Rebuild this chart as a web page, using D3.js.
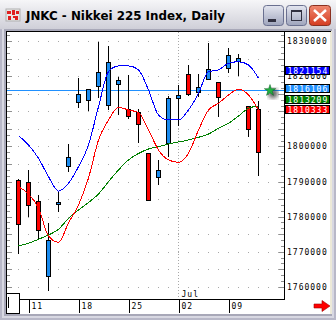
<!DOCTYPE html>
<meta charset="utf-8">
<title>JNKC</title>
<style>
body { margin: 0; }
svg { display: block; }
.num { font-family: "DejaVu Sans Mono", monospace; font-size: 8px; letter-spacing: 1px; }
</style>
<script src="https://d3js.org/d3.v7.min.js"></script>
<body>
<script>

var width = 336, height = 320;

// trading days, June 8 .. July 12
var dates = ["06/08","06/11","06/12","06/13","06/14","06/15","06/18","06/19","06/20","06/21","06/22",
             "06/25","06/26","06/27","06/28","06/29","07/02","07/03","07/04","07/05","07/06",
             "07/09","07/10","07/11","07/12"];

var open  = [1790400,1789800,1784400,1762900,1783500,1794350,1812600,1813200,1817050,1811650,1817750,
             1810600,1809850,1798050,1791400,1800800,1813750,1820650,1815600,1819150,1818300,
             1822450,1824200,1811450,1810700];
var high  = [1790600,1793300,1786300,1778300,1787300,1800700,1819450,1816400,1829900,1828750,1819900,
             1820400,1810700,1798100,1796150,1814400,1817550,1823250,1820650,1829450,1818350,
             1828000,1826300,1811500,1813050];
var low   = [1769400,1780000,1773500,1758900,1781400,1792800,1811050,1810100,1813900,1810400,1809000,
             1807850,1800900,1784500,1789000,1797100,1805950,1814500,1814200,1818950,1808500,
             1821050,1820200,1802800,1791650];
var close = [1777800,1783100,1776000,1773300,1784200,1797000,1815000,1816300,1821150,1824000,1818950,
             1808500,1806500,1784750,1793300,1813750,1814600,1814900,1816900,1822000,1813900,
             1826100,1825150,1804900,1798350];

var maBlue  = [1803080,1800430,1796630,1791380,1787300,1789500,1794240,1800430,1811350,1821330,1822960,
               1822960,1821820,1816110,1808980,1807560,1807560,1810410,1815170,1821330,1821820,
               1823730,1824180,1823240,1819450];
var maRed   = [1788530,1786450,1782460,1774470,1772680,1778180,1783310,1791010,1801850,1807560,1811180,
               1810410,1809690,1804700,1799000,1796150,1795490,1798060,1804700,1810410,1812320,
               1814690,1816310,1814690,1810410];
var maGreen = [1771620,1772390,1773530,1774760,1776380,1779520,1781890,1784030,1786450,1789960,1793300,
               1796150,1798000,1799280,1799940,1800710,1801280,1801850,1802620,1803560,1805190,
               1806610,1808700,1810890,1811550];

var priceLine = 1816106;
var tags = [
  {text: "1821154", color: "#0000ff"},
  {text: "1816106", color: "#2090ff"},
  {text: "1813209", color: "#008000"},
  {text: "1810333", color: "#ff0000"}
];
var tagTops = [66, 84, 95, 105];

// 1810000 sits fully under the value tags, so it is not drawn
var yLabels = [1830000,1820000,1800000,1790000,1780000,1770000,1760000];
var xTicks  = ["06/11","06/18","06/25","07/02","07/09"];
var xTickLabels = ["11","18","25","02","09"];
var monthMark = {date: "07/02", label: "Jul"};

var title = "JNKC - Nikkei 225 Index, Daily";

var plot = {left: 7, right: 284, top: 32, bottom: 299};

var x = d3.scalePoint().domain(dates).range([18.5, 258.5]);
var y = d3.scaleLinear().domain([1756500, 1832650]).range([plot.bottom, plot.top]);

var svg = d3.select("body").append("svg")
    .attr("width", width)
    .attr("height", height);

var defs = svg.append("defs");
var tg = defs.append("linearGradient").attr("id", "titlegrad").attr("x1", 0).attr("y1", 0).attr("x2", 0).attr("y2", 1);
tg.append("stop").attr("offset", "0%").attr("stop-color", "#f6f6f8");
tg.append("stop").attr("offset", "100%").attr("stop-color", "#cfcfd8");
var bg = defs.append("linearGradient").attr("id", "btngrad").attr("x1", 0).attr("y1", 0).attr("x2", 0).attr("y2", 1);
bg.append("stop").attr("offset", "0%").attr("stop-color", "#e4e6f0");
bg.append("stop").attr("offset", "100%").attr("stop-color", "#9ea4bc");
var cg = defs.append("linearGradient").attr("id", "closegrad").attr("x1", 0).attr("y1", 0).attr("x2", 0).attr("y2", 1);
cg.append("stop").attr("offset", "0%").attr("stop-color", "#f08870");
cg.append("stop").attr("offset", "100%").attr("stop-color", "#d43c20");
defs.append("filter").attr("id", "blur").append("feGaussianBlur").attr("stdDeviation", 2);

// window frame
svg.append("rect").attr("width", width).attr("height", height).attr("fill", "#b8b8c8");
svg.append("rect").attr("x", 2).attr("y", 0).attr("width", width - 4).attr("height", height - 2).attr("fill", "#d8d8e2");
svg.append("rect").attr("x", 0).attr("y", 0).attr("width", width).attr("height", 29).attr("fill", "url(#titlegrad)");
svg.append("rect").attr("x", 4).attr("y", 29).attr("width", width - 8).attr("height", 287).attr("fill", "#a8a8b8");
svg.append("rect").attr("x", 6).attr("y", 31).attr("width", 325).attr("height", 283).attr("fill", "#fff");
svg.append("rect").attr("x", 330).attr("y", 31).attr("width", 2).attr("height", 283).attr("fill", "#ece9d8");

// icon
var icon = svg.append("g").attr("transform", "translate(6,9)");
icon.append("rect").attr("width", 14).attr("height", 12).attr("fill", "#e8e8e8").attr("stroke", "#b0b0b0");
[[1,2,4,3],[6,1,3,5],[10,2,3,3],[2,7,3,4],[7,7,5,2],[9,9,3,2]].forEach(function(r) {
  icon.append("rect").attr("x", r[0]).attr("y", r[1]).attr("width", r[2]).attr("height", r[3]).attr("fill", "#e02020");
});

svg.append("text")
    .attr("x", 26).attr("y", 20)
    .attr("textLength", 199).attr("lengthAdjust", "spacingAndGlyphs")
    .style("font-family", "DejaVu Sans").style("font-weight", "bold").style("font-size", "12px")
    .attr("fill", "#000")
    .text(title);

// title buttons
[263, 286].forEach(function(bx) {
  svg.append("rect").attr("x", bx + 0.5).attr("y", 5.5).attr("width", 20).attr("height", 20).attr("rx", 3)
      .attr("fill", "url(#btngrad)").attr("stroke", "#6a7090");
});
svg.append("rect").attr("x", 268).attr("y", 19).attr("width", 8).attr("height", 3).attr("fill", "#303040");
svg.append("rect").attr("x", 291.5).attr("y", 10.5).attr("width", 10).attr("height", 10).attr("fill", "none").attr("stroke", "#303040").attr("stroke-width", 1);
svg.append("rect").attr("x", 291).attr("y", 10).attr("width", 11).attr("height", 2).attr("fill", "#303040");
svg.append("rect").attr("x", 309.5).attr("y", 5.5).attr("width", 21).attr("height", 20).attr("rx", 3)
    .attr("fill", "url(#closegrad)").attr("stroke", "#8a3020");
svg.append("path").attr("d", "M314,10L326,21M326,10L314,21").attr("stroke", "#fff").attr("stroke-width", 2.5);

var chart = svg.append("g").attr("shape-rendering", "crispEdges");

// dotted gridlines
var gridVals = d3.range(1760000, 1830001, 5000);
chart.selectAll("line.grid")
    .data(gridVals)
  .enter().append("line")
    .attr("class", "grid")
    .attr("x1", plot.left + 1).attr("x2", plot.right)
    .attr("y1", function(d) { return Math.round(y(d)) + 0.5; })
    .attr("y2", function(d) { return Math.round(y(d)) + 0.5; })
    .attr("stroke", "#a8a8a8")
    .attr("stroke-dasharray", "1,9");

chart.append("line")
    .attr("x1", x(monthMark.date)).attr("x2", x(monthMark.date))
    .attr("y1", plot.top).attr("y2", plot.bottom)
    .attr("stroke", "#a8a8a8")
    .attr("stroke-dasharray", "1,2");

// axis ticks, left and right edges
var tickVals = d3.range(1760000, 1832001, 5000 / 3);
chart.selectAll("line.rtick")
    .data(tickVals)
  .enter().append("line")
    .attr("x1", function(d, i) { return i % 3 == 0 ? plot.right - 5 : plot.right - 3; })
    .attr("x2", plot.right)
    .attr("y1", function(d) { return Math.round(y(d)) + 0.5; })
    .attr("y2", function(d) { return Math.round(y(d)) + 0.5; })
    .attr("stroke", "#909090");
chart.selectAll("line.ltick")
    .data(tickVals)
  .enter().append("line")
    .attr("x1", plot.left)
    .attr("x2", function(d, i) { return i % 3 == 0 ? plot.left + 5 : plot.left + 3; })
    .attr("y1", function(d) { return Math.round(y(d)) + 0.5; })
    .attr("y2", function(d) { return Math.round(y(d)) + 0.5; })
    .attr("stroke", "#909090");

// horizontal price line
chart.append("line")
    .attr("x1", plot.left).attr("x2", plot.right + 2)
    .attr("y1", Math.round(y(priceLine)) + 0.5).attr("y2", Math.round(y(priceLine)) + 0.5)
    .attr("stroke", "#2090ff");

// candles
var idx = d3.range(dates.length);
chart.selectAll("line.wick")
    .data(idx)
  .enter().append("line")
    .attr("x1", function(i) { return x(dates[i]); })
    .attr("x2", function(i) { return x(dates[i]); })
    .attr("y1", function(i) { return Math.round(y(high[i])); })
    .attr("y2", function(i) { return Math.round(y(low[i])); })
    .attr("stroke", "#000");

chart.selectAll("rect.body")
    .data(idx)
  .enter().append("rect")
    .attr("x", function(i) { return x(dates[i]) - 2; })
    .attr("y", function(i) { return Math.round(y(Math.max(open[i], close[i]))) + 0.5; })
    .attr("width", 4)
    .attr("height", function(i) { return Math.max(2, Math.round(y(Math.min(open[i], close[i])) - y(Math.max(open[i], close[i])))); })
    .attr("fill", function(i) { return close[i] >= open[i] ? "#1a8cf0" : "#ff0000"; })
    .attr("stroke", "#000");

// moving averages
var line = function(vals) {
  return d3.line()
      .x(function(d, i) { return x(dates[i]); })
      .y(function(d) { return y(d); })
      .curve(d3.curveMonotoneX)(vals);
};
[[maGreen, "#008000"], [maRed, "#ff0000"], [maBlue, "#0000ff"]].forEach(function(s) {
  svg.append("path")
      .attr("d", line(s[0]))
      .attr("fill", "none")
      .attr("stroke", s[1])
      .attr("stroke-width", 1)
      .attr("shape-rendering", "crispEdges");
});

// plot frame
chart.append("line").attr("x1", 6).attr("x2", 331).attr("y1", 31.5).attr("y2", 31.5).attr("stroke", "#000");
chart.append("line").attr("x1", 6.5).attr("x2", 6.5).attr("y1", 31).attr("y2", 314).attr("stroke", "#000");
chart.append("line").attr("x1", plot.right + 0.5).attr("x2", plot.right + 0.5).attr("y1", 31).attr("y2", 300).attr("stroke", "#000");
chart.append("line").attr("x1", 19).attr("x2", plot.right + 1).attr("y1", 299.5).attr("y2", 299.5).attr("stroke", "#000");
chart.append("rect").attr("x", 6.5).attr("y", 293.5).attr("width", 13).attr("height", 20).attr("fill", "#fff").attr("stroke", "#000");
chart.append("line").attr("x1", 8.5).attr("x2", 8.5).attr("y1", 297).attr("y2", 308).attr("stroke", "#000");

// x axis
chart.selectAll("line.xtick")
    .data(xTicks)
  .enter().append("line")
    .attr("x1", function(d) { return x(d) + 1; })
    .attr("x2", function(d) { return x(d) + 1; })
    .attr("y1", 300).attr("y2", 313)
    .attr("stroke", "#000");
svg.selectAll("text.xlab")
    .data(xTicks)
  .enter().append("text")
    .attr("class", "num")
    .attr("x", function(d) { return x(d) + 3; })
    .attr("y", 309)
    .text(function(d, i) { return xTickLabels[i]; });
svg.append("text")
    .attr("class", "num")
    .attr("x", x(monthMark.date) + 3).attr("y", 297)
    .text(monthMark.label);

// y labels
svg.selectAll("text.ylab")
    .data(yLabels)
  .enter().append("text")
    .attr("class", "num")
    .attr("x", 287)
    .attr("y", function(d) { return y(d) + 3; })
    .text(function(d) { return d; });

// value tags
var tag = svg.selectAll("g.tag")
    .data(tags)
  .enter().append("g")
    .attr("transform", function(d, i) { return "translate(285," + tagTops[i] + ")"; });
tag.append("rect")
    .attr("x", 0.5).attr("y", 0.5).attr("width", 44).attr("height", 8)
    .attr("fill", function(d) { return d.color; })
    .attr("stroke", "#000")
    .attr("shape-rendering", "crispEdges");
tag.append("text")
    .attr("class", "num")
    .attr("x", 2.5).attr("y", 7.5)
    .attr("fill", "#fff")
    .text(function(d) { return d.text; });

// marker at end of price line
var my = Math.round(y(priceLine)) + 0.5;
svg.append("circle").attr("cx", 273).attr("cy", my + 3).attr("r", 5).attr("fill", "#202020").attr("opacity", 0.7).attr("filter", "url(#blur)");
svg.append("path")
    .attr("d", d3.symbol().type(d3.symbolStar).size(40)())
    .attr("transform", "translate(270," + my + ")")
    .attr("fill", "#20b040")
    .attr("stroke", "#0a6020")
    .attr("stroke-width", 0.5);

// scroll arrow
svg.append("path")
    .attr("d", "M314,304L322,304L322,300.5L330,306L322,311.5L322,308L314,308Z")
    .attr("fill", "#ff0000")
    .attr("stroke", "#a00000")
    .attr("stroke-width", 0.6);

</script>
